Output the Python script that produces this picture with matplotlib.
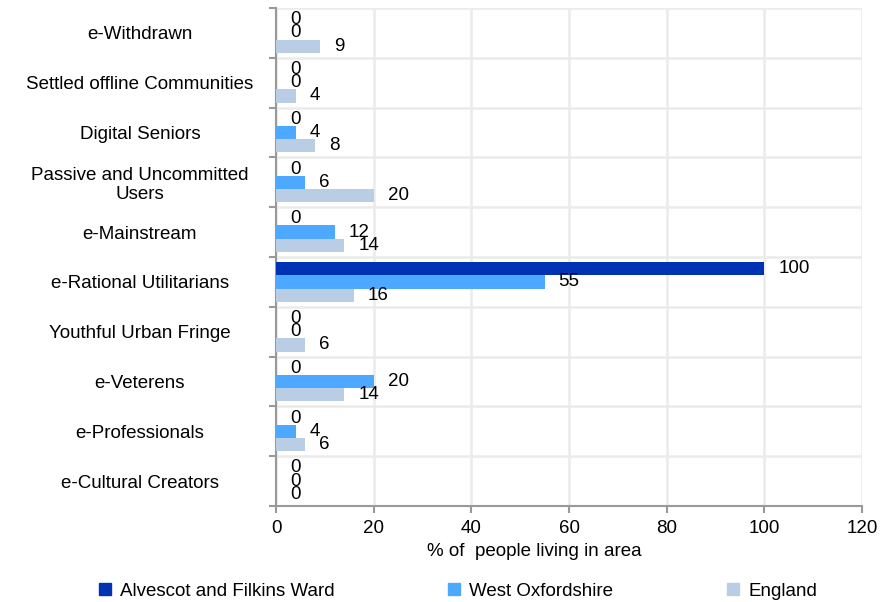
import numpy as np
import matplotlib.pyplot as plt
from matplotlib.lines import Line2D

plt.rcParams['font.family'] = ['Liberation Sans', 'DejaVu Sans']
fs = 13.5

# Data
categories = ["e-Withdrawn", "Settled offline Communities", "Digital Seniors",
              "Passive and Uncommitted\nUsers", "e-Mainstream", "e-Rational Utilitarians",
              "Youthful Urban Fringe", "e-Veterens", "e-Professionals", "e-Cultural Creators"]
series_names = ["Alvescot and Filkins Ward", "West Oxfordshire", "England"]
alvescot = [0, 0, 0, 0, 0, 100, 0, 0, 0, 0]
west_oxon = [0, 0, 4, 6, 12, 55, 0, 20, 4, 0]
england = [9, 4, 8, 20, 14, 16, 6, 14, 6, 0]
colors = ["#0033B4", "#4DA9FF", "#B9CDE5"]

fig = plt.figure(figsize=(8.88, 6.02), dpi=100)
ax = fig.add_axes([276/888, 1 - 506/602, 586/888, 498/602])

n = len(categories)
ypos = np.arange(n)
h = 0.267
for i, (vals, col) in enumerate(zip([alvescot, west_oxon, england], colors)):
    y = ypos + (i - 1) * h
    ax.barh(y, vals, height=h, color=col, zorder=3)
    for yy, v in zip(y, vals):
        ax.annotate(f"{v:g}", (v, yy), xytext=(10, 0), textcoords='offset points',
                    va='center', ha='left', fontsize=fs, color='black', zorder=4)

ax.set_xlim(0, 120)
ax.set_ylim(n - 0.5, -0.5)
ax.set_xticks(np.arange(0, 121, 20))
ax.tick_params(axis='x', labelsize=fs, length=5, color='#999999', width=1.5, pad=5)

# category boundaries as major ticks, labels on minor ticks
ax.set_yticks(np.arange(-0.5, n, 1))
ax.set_yticklabels([])
ax.set_yticks(ypos, minor=True)
ax.set_yticklabels(categories, minor=True, ha='center', fontsize=fs, linespacing=1.15)
ax.tick_params(axis='y', which='major', length=5, color='#999999', width=1.5)
ax.tick_params(axis='y', which='minor', length=0, pad=98)

ax.grid(True, which='major', color='#EBEBEB', linewidth=1.8, zorder=0)
ax.set_axisbelow(True)
for s in ['top', 'right']:
    ax.spines[s].set_visible(False)
for s in ['left', 'bottom']:
    ax.spines[s].set_color('#999999')
    ax.spines[s].set_linewidth(1.5)

ax.set_xlabel("% of  people living in area", fontsize=fs)
ax.xaxis.set_label_coords(0.44, -0.075)

handles = [Line2D([], [], marker='s', linestyle='none', markersize=8,
                  markerfacecolor=c, markeredgecolor=c) for c in colors]
fig.legend(handles, series_names, loc='center left', bbox_to_anchor=(97/888, 0.018),
           ncol=3, frameon=False, fontsize=fs, columnspacing=6.0,
           handletextpad=0.4, handlelength=0.8, borderpad=0, borderaxespad=0)

fig.savefig("out.png", dpi=100)
